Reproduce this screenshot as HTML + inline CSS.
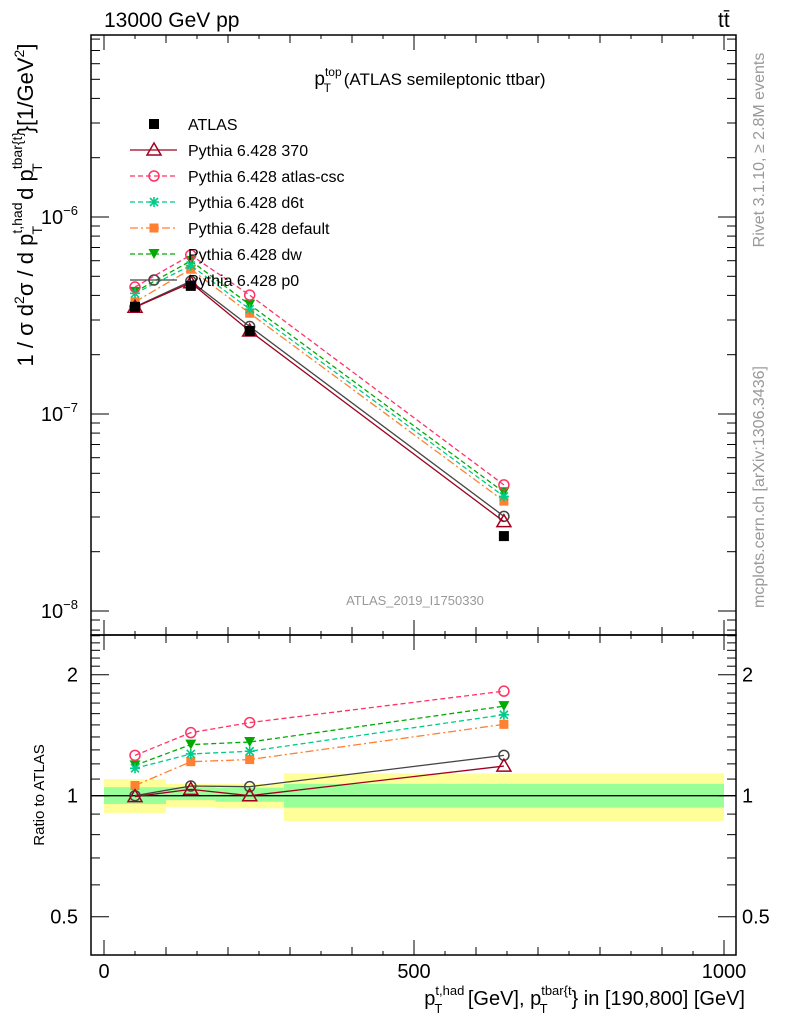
<!DOCTYPE html>
<html><head><meta charset="utf-8"><style>
body{margin:0;background:#fff;}
svg{display:block;font-family:"Liberation Sans",sans-serif;}
</style></head><body>
<svg id="c" width="786" height="1024" viewBox="0 0 786 1024" xmlns="http://www.w3.org/2000/svg">
<g id="bands"></g>
<g id="marks"></g>
<g id="axes"></g>
<text x="104" y="27" font-size="21">13000 GeV pp</text>
<text x="718" y="27" font-size="21">tt̄</text>
<text x="430" y="85" font-size="17" text-anchor="middle"><tspan font-size="19">p</tspan><tspan font-size="12" dy="-9">top</tspan><tspan font-size="12" dx="-18" dy="16">T</tspan><tspan dy="-7" dx="8"> (ATLAS semileptonic ttbar)</tspan></text>
<text x="415" y="605" font-size="13" fill="#999" text-anchor="middle">ATLAS_2019_I1750330</text>
<text transform="translate(764,150) rotate(-90)" font-size="16" fill="#999" text-anchor="middle">Rivet 3.1.10, ≥ 2.8M events</text>
<text transform="translate(764,487) rotate(-90)" font-size="16" fill="#999" text-anchor="middle">mcplots.cern.ch [arXiv:1306.3436]</text>
<text transform="translate(33,205) rotate(-90)" font-size="22" text-anchor="middle">1 / σ d<tspan font-size="14" dy="-9">2</tspan><tspan dy="9">σ / d p</tspan><tspan font-size="14" dy="-11">t,had</tspan><tspan font-size="14" dx="-32" dy="20">T</tspan><tspan dy="-9" dx="20"> d p</tspan><tspan font-size="14" dy="-11">tbar{t}</tspan><tspan font-size="14" dx="-40" dy="20">T</tspan><tspan dy="-9" dx="30">}[1/GeV</tspan><tspan font-size="14" dy="-9">2</tspan><tspan dy="9">]</tspan></text>
<text transform="translate(44,795) rotate(-90)" font-size="15" text-anchor="middle">Ratio to ATLAS</text>
<text x="745" y="1005" font-size="20" text-anchor="end">p<tspan font-size="13" dy="-10">t,had</tspan><tspan font-size="13" dx="-30" dy="18">T</tspan><tspan dy="-8" dx="20"> [GeV], p</tspan><tspan font-size="13" dy="-10">tbar{t</tspan><tspan font-size="13" dx="-32" dy="18">T</tspan><tspan dy="-8" dx="24">} in [190,800] [GeV]</tspan></text>
<g id="legend"></g>
</svg>
<script>
const binEdges=[0,100,180,290,1000];
const xCenters=[50,140,235,645];
const atlasData=[3.5e-7,4.47e-7,2.64e-7,2.4e-8];
const statUp=[1.05,1.05,1.047,1.07];
const statDn=[0.954,0.975,0.966,0.934];
const totUp=[1.10,1.07,1.07,1.137];
const totDn=[0.906,0.937,0.93,0.865];
const r370=[0.995,1.037,1.0,1.185];
const rCsc=[1.26,1.435,1.52,1.82];
const rD6t=[1.17,1.27,1.29,1.59];
const rDefault=[1.06,1.215,1.23,1.505];
const rDw=[1.19,1.34,1.36,1.67];
const rP0=[1.0,1.057,1.053,1.26];
const xTicks=[0,500,1000];
const yTicks=[-8,-7,-6];
const rTicks=[0.5,1,2];

const NS="http://www.w3.org/2000/svg";
const L=91,R=736,T=35,M=635,B=955;
function X(v){return 104+v*0.62;}
function Y(v){return 217-(Math.log10(v)+6)*197;}
function RY(v){return 795.7-Math.log2(v)*121;}
function mk(tag,at,parent){const e=document.createElementNS(NS,tag);for(const k in at)e.setAttribute(k,at[k]);parent.appendChild(e);return e;}
const bands=document.getElementById('bands'),marks=document.getElementById('marks'),axes=document.getElementById('axes'),leg=document.getElementById('legend');

for(let i=0;i<xCenters.length;i++){
 const x0=X(binEdges[i]),x1=Math.min(X(binEdges[i+1]),R);
 let e=mk('rect',{x:x0,y:RY(totUp[i]),width:x1-x0,height:RY(totDn[i])-RY(totUp[i]),fill:'#ffff99'},bands);
 
 
 e=mk('rect',{x:x0,y:RY(statUp[i]),width:x1-x0,height:RY(statDn[i])-RY(statUp[i]),fill:'#99ff99'},bands);
 
 
}
mk('line',{x1:L,x2:R,y1:RY(1),y2:RY(1),stroke:'#000','stroke-width':1.3},bands);

function marker(type,col,x,y,g){
 let e;
 if(type=='sq')e=mk('rect',{x:x-5,y:y-5,width:10,height:10,fill:col},g);
 else if(type=='fsq')e=mk('rect',{x:x-4.5,y:y-4.5,width:9,height:9,fill:col},g);
 else if(type=='tri')e=mk('polygon',{points:`${x},${y-7} ${x-7},${y+5} ${x+7},${y+5}`,fill:'none',stroke:col,'stroke-width':1.5},g);
 else if(type=='dtri')e=mk('polygon',{points:`${x},${y+5} ${x-5.5},${y-5} ${x+5.5},${y-5}`,fill:col},g);
 else if(type=='circ')e=mk('circle',{cx:x,cy:y,r:5,fill:'none',stroke:col,'stroke-width':1.5},g);
 else if(type=='star'){e=mk('path',{d:`M${x-5} ${y}H${x+5}M${x} ${y-5}V${y+5}M${x-4} ${y-4}L${x+4} ${y+4}M${x-4} ${y+4}L${x+4} ${y-4}`,stroke:col,'stroke-width':1.6},g);}
 return e;
}
const series=[
 {name:'Pythia 6.428 370',r:r370,col:'#a00020',dash:'',m:'tri'},
 {name:'Pythia 6.428 atlas-csc',r:rCsc,col:'#ff3366',dash:'5,3',m:'circ'},
 {name:'Pythia 6.428 d6t',r:rD6t,col:'#00cc88',dash:'5,3',m:'star'},
 {name:'Pythia 6.428 default',r:rDefault,col:'#ff8030',dash:'8,3,2,3',m:'fsq'},
 {name:'Pythia 6.428 dw',r:rDw,col:'#00aa00',dash:'5,3',m:'dtri'},
 {name:'Pythia 6.428 p0',r:rP0,col:'#444444',dash:'',m:'circ'}
];
series.slice().reverse().forEach(s=>{
 const g=mk('g',{},marks);
 
 
 const mainPts=xCenters.map((x,i)=>X(x)+','+Y(atlasData[i]*s.r[i])).join(' ');
 const ratPts=xCenters.map((x,i)=>X(x)+','+RY(s.r[i])).join(' ');
 const a={fill:'none',stroke:s.col,'stroke-width':1.3};if(s.dash)a['stroke-dasharray']=s.dash;
 mk('polyline',Object.assign({points:mainPts},a),g);
 mk('polyline',Object.assign({points:ratPts},a),g);
 xCenters.forEach((x,i)=>{
  let e=marker(s.m,s.col,X(x),Y(atlasData[i]*s.r[i]),g);
  
  
  e=marker(s.m,s.col,X(x),RY(s.r[i]),g);
  
  
 });
});
xCenters.forEach((x,i)=>{
 const e=marker('sq','#000',X(x),Y(atlasData[i]),marks);
 
 
});

mk('rect',{x:L,y:T,width:R-L,height:M-T,fill:'none',stroke:'#000','stroke-width':1.5},axes);
mk('rect',{x:L,y:M,width:R-L,height:B-M,fill:'none',stroke:'#000','stroke-width':1.5},axes);
for(let v=0;v<=1000;v+=50){
 const len=(v%500==0)?15:(v%100==0)?8:4;
 const x=X(v);
 [M,B].forEach(yb=>mk('line',{x1:x,x2:x,y1:yb,y2:yb-len,stroke:'#000'},axes));
 [T,M].forEach(yt=>mk('line',{x1:x,x2:x,y1:yt,y2:yt+len,stroke:'#000'},axes));
}
xTicks.forEach(v=>{const t=mk('text',{x:X(v),y:978,'font-size':20,'text-anchor':'middle'},axes);t.textContent=v;
 
 });
for(let d=-9;d<=-5;d++)for(let k=1;k<10;k++){
 const v=k*Math.pow(10,d),y=Y(v);if(y<T||y>M)continue;
 const len=k==1?18:9;
 mk('line',{x1:L,x2:L+len,y1:y,y2:y,stroke:'#000'},axes);
 mk('line',{x1:R,x2:R-len,y1:y,y2:y,stroke:'#000'},axes);
}
yTicks.forEach(d=>{const t=mk('text',{x:78,y:Y(Math.pow(10,d))+7,'font-size':20,'text-anchor':'end'},axes);
 
 
 t.innerHTML='10<tspan font-size="13" dy="-9">'+(d==-6?'−6':d==-7?'−7':'−8')+'</tspan>';});
[0.4,0.5,0.6,0.7,0.8,0.9,1,1.1,1.2,1.3,1.4,1.5,1.6,1.7,1.8,1.9,2,2.1,2.2,2.3,2.4,2.5].forEach(v=>{
 const y=RY(v);if(y<M||y>B)return;
 const len=(v==0.5||v==1||v==2)?18:9;
 mk('line',{x1:L,x2:L+len,y1:y,y2:y,stroke:'#000'},axes);
 mk('line',{x1:R,x2:R-len,y1:y,y2:y,stroke:'#000'},axes);
});
rTicks.forEach(v=>{
 let t=mk('text',{x:78,y:RY(v)+7,'font-size':20,'text-anchor':'end'},axes);t.textContent=v;
 
 
 t=mk('text',{x:742,y:RY(v)+7,'font-size':20},axes);t.textContent=v;
 
 
});
const legItems=[{name:'ATLAS',col:'#000',m:'sq',dash:null}].concat(series);
legItems.forEach((s,i)=>{
 const y=124+i*26;
 const g=mk('g',{},leg);
 
 
 if(s.dash!==null){const a={x1:130,x2:177,y1:y,y2:y,stroke:s.col,'stroke-width':1.3};if(s.dash)a['stroke-dasharray']=s.dash;mk('line',a,g);}
 marker(s.m,s.col,154,y,g);
 const t=mk('text',{x:188,y:y+6,'font-size':16},g);t.textContent=s.name;
});
</script>
</body></html>
